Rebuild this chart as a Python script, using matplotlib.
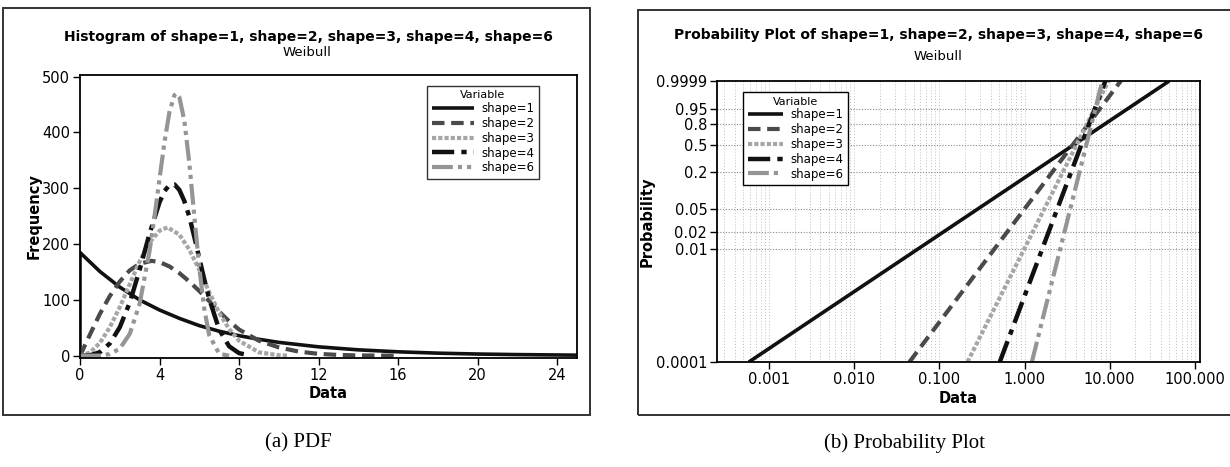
import numpy as np
import matplotlib
matplotlib.use("Agg")
import matplotlib.pyplot as plt
from matplotlib.patches import Rectangle
from matplotlib.ticker import FixedLocator, NullLocator

# ---- data ----
shapes = ["shape=1", "shape=2", "shape=3", "shape=4", "shape=6"]

# (a) fitted Weibull curves on the histogram (Frequency vs Data)
x_s1 = [0, 0, 1, 2, 3, 4, 5, 6, 7, 8, 9, 10, 12, 14, 16, 18, 20, 22, 25]
y_s1 = [0, 185, 151, 123, 100, 82, 67, 54, 44, 36, 29.5, 24, 16, 10.6, 7.1, 4.7, 3.1, 2.1, 1.1]

x_s2 = [0, 0.5, 1, 1.5, 2, 2.5, 3, 3.6, 4, 4.5, 5, 5.5, 6, 6.5, 7, 7.5, 8, 9, 10, 11, 12, 13, 14, 16]
y_s2 = [0, 38, 75, 107, 133, 153, 165, 170, 168, 160, 148, 133, 116, 98, 79, 62, 47, 27, 15, 7.5, 3.4, 1.5, 0.6, 0.1]

x_s3 = [0, 0.5, 1, 1.5, 2, 2.5, 3, 3.5, 4, 4.4, 5, 5.5, 6, 6.5, 7, 7.5, 8, 9, 10, 10.5]
y_s3 = [0, 5.8, 23, 51, 87, 128, 169, 203, 224, 230, 217, 190, 154, 114, 77, 48, 27, 6.2, 0.9, 0.3]

x_s4 = [0, 0.5, 1, 1.5, 2, 2.5, 3, 3.5, 4, 4.25, 4.5, 4.75, 5, 5.25, 5.5, 5.75, 6, 6.25,
        6.5, 7, 7.5, 8, 8.5]
y_s4 = [0, 0.8, 6.5, 22, 51, 95, 154, 219, 275, 295, 306, 307, 297, 277, 249, 213, 175, 137,
        102, 47, 17, 4.7, 0.9]

x_s6 = [0, 1, 1.5, 2, 2.5, 3, 3.5, 3.75, 4, 4.25, 4.5, 4.75, 4.85, 5, 5.25, 5.5, 5.75, 6,
        6.25, 6.5, 7, 7.5]
y_s6 = [0, 0.4, 3.1, 12.8, 39, 93, 188, 250, 317, 383, 437, 467, 470, 463, 421, 345, 250, 158,
        84, 37, 3.6, 0.1]

# (b) probability plot lines: end points (Data, Probability)
pp_x = {"shape=1": [0.00058, 50.0], "shape=2": [0.0445, 13.5], "shape=3": [0.214, 9.7],
        "shape=4": [0.512, 8.9], "shape=6": [1.22, 8.2]}
pp_p = [0.0001, 0.9999]

prob_ticks = [0.0001, 0.01, 0.02, 0.05, 0.2, 0.5, 0.8, 0.95, 0.9999]
prob_labels = ["0.0001", "0.01", "0.02", "0.05", "0.2", "0.5", "0.8", "0.95", "0.9999"]
data_ticks = [0.001, 0.01, 0.1, 1, 10, 100]
data_labels = ["0.001", "0.010", "0.100", "1.000", "10.000", "100.000"]

# ---- styles ----
styles = {
    "shape=1": dict(color="#111111", lw=2.6, ls="-"),
    "shape=2": dict(color="#4a4a4a", lw=3.0, ls=(0, (3, 1.6))),
    "shape=3": dict(color="#a6a6a6", lw=3.0, ls=(0, (1, 0.5))),
    "shape=4": dict(color="#111111", lw=3.2, ls=(0, (5, 1.6, 1.2, 1.6))),
    "shape=6": dict(color="#959595", lw=3.0, ls=(0, (5, 1.2, 1, 1.2, 1, 1.2))),
}

plt.rcParams["font.family"] = ["DejaVu Sans"]
fig = plt.figure(figsize=(12.3, 4.67), dpi=100)
W, H = 1230, 467


def fx(px):
    return px / W


def fy(py):
    return 1 - py / H


# panel frames
fig.patches.append(Rectangle((fx(3), fy(415)), fx(587), 407 / H, transform=fig.transFigure,
                             fill=False, lw=1.4, ec="#333333"))
fig.patches.append(Rectangle((fx(638), fy(415)), fx(600), 405 / H, transform=fig.transFigure,
                             fill=False, lw=1.4, ec="#333333"))

# ---------- (a) PDF ----------
ax1 = fig.add_axes([fx(80), fy(358), fx(497), 283 / H])
curves = [(x_s1, y_s1), (x_s2, y_s2), (x_s3, y_s3), (x_s4, y_s4), (x_s6, y_s6)]
for name, (xs, ys) in zip(shapes, curves):
    ax1.plot(xs, ys, label=name, solid_capstyle="butt", dash_capstyle="butt", **styles[name])
ax1.set_xlim(0, 25)
ax1.set_ylim(-4, 503)
ax1.set_xticks([0, 4, 8, 12, 16, 20, 24])
ax1.set_yticks([0, 100, 200, 300, 400, 500])
ax1.tick_params(direction="out", length=5, width=1, labelsize=10.5, pad=2)
for s in ax1.spines.values():
    s.set_linewidth(1.3)
ax1.set_xlabel("Data", fontsize=10.5, fontweight="bold")
ax1.set_ylabel("Frequency", fontsize=10.5, fontweight="bold")
ax1.xaxis.set_label_coords(0.5, -0.099)
ax1.yaxis.set_label_coords(-0.078, 0.5)
leg1 = ax1.legend(title="Variable", loc="upper left", bbox_to_anchor=(0.698, 0.962),
                  fontsize=8.5, title_fontsize=8, frameon=True, fancybox=False,
                  edgecolor="black", handlelength=3.6, handletextpad=0.6,
                  labelspacing=0.15, borderpad=0.4, borderaxespad=0)
leg1.get_frame().set_linewidth(1.0)
fig.text(fx(308), fy(37), "Histogram of shape=1, shape=2, shape=3, shape=4, shape=6",
         ha="center", va="center", fontsize=10, fontweight="bold")
fig.text(fx(307), fy(53), "Weibull", ha="center", va="center", fontsize=9.5)

# ---------- (b) Probability plot ----------
def wfwd(p):
    with np.errstate(all="ignore"):
        return np.log(-np.log(1 - np.asarray(p, dtype=float)))


def winv(y):
    return 1 - np.exp(-np.exp(np.asarray(y, dtype=float)))


ax2 = fig.add_axes([fx(717), fy(362), fx(483), 281 / H])
ax2.set_xscale("log")
ax2.set_yscale("function", functions=(wfwd, winv))
ax2.set_xlim(0.000245, 115)
ax2.set_ylim(0.0001, 0.9999)

# grid: vertical at every 1..9 per decade, horizontal at probability ticks
for d in range(-4, 3):
    for m in range(1, 10):
        v = m * 10.0 ** d
        if 0.000245 < v < 115:
            ax2.axvline(v, color="#a8a8a8", lw=0.6, ls=(0, (1, 2.5)), zorder=0)
for p in prob_ticks[1:-1]:
    ax2.axhline(p, color="#8a8a8a", lw=0.8, ls=(0, (1, 1.5)), zorder=0)

for name in shapes:
    ax2.plot(pp_x[name], pp_p, label=name, solid_capstyle="butt", dash_capstyle="butt",
             **styles[name])

ax2.yaxis.set_major_locator(FixedLocator(prob_ticks))
ax2.set_yticklabels(prob_labels)
ax2.yaxis.set_minor_locator(NullLocator())
ax2.xaxis.set_major_locator(FixedLocator(data_ticks))
ax2.set_xticklabels(data_labels)
ax2.xaxis.set_minor_locator(NullLocator())
ax2.tick_params(direction="out", length=5, width=1, labelsize=10.5, pad=2)
for s in ax2.spines.values():
    s.set_linewidth(1.3)
ax2.set_xlabel("Data", fontsize=10.5, fontweight="bold")
ax2.set_ylabel("Probability", fontsize=10.5, fontweight="bold")
ax2.xaxis.set_label_coords(0.5, -0.103)
ax2.yaxis.set_label_coords(-0.130, 0.5)
leg2 = ax2.legend(title="Variable", loc="upper left", bbox_to_anchor=(0.054, 0.961),
                  fontsize=8.5, title_fontsize=8, frameon=True, fancybox=False,
                  edgecolor="black", handlelength=3.0, handletextpad=0.6,
                  labelspacing=0.15, borderpad=0.4, borderaxespad=0, framealpha=1)
leg2.get_frame().set_linewidth(1.0)
fig.text(fx(938), fy(35), "Probability Plot of shape=1, shape=2, shape=3, shape=4, shape=6",
         ha="center", va="center", fontsize=10, fontweight="bold")
fig.text(fx(938), fy(57), "Weibull", ha="center", va="center", fontsize=9.5)

# captions
fig.text(fx(298), fy(443), "(a) PDF", ha="center", va="center", fontsize=15,
         family=["Liberation Serif"])
fig.text(fx(905), fy(443), "(b) Probability Plot", ha="center", va="center", fontsize=15,
         family=["Liberation Serif"])

fig.savefig("out.png", dpi=100)
